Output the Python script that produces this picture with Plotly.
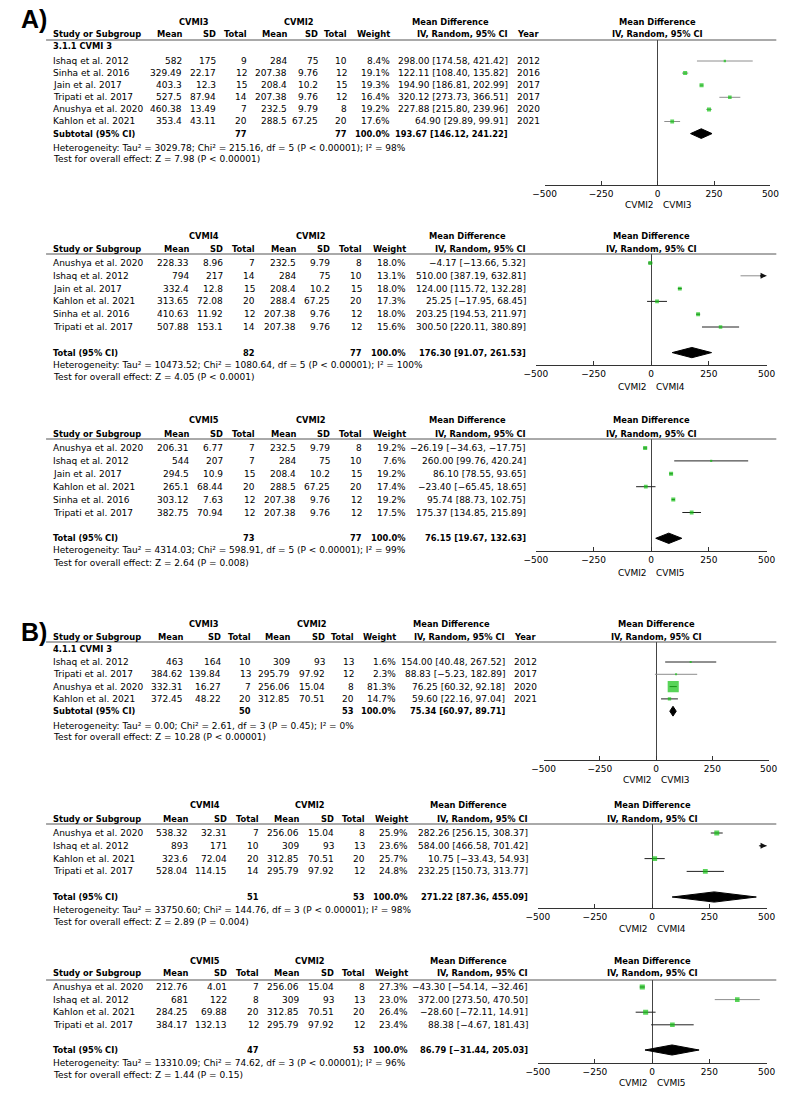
import plotly.graph_objects as go

W, H = 797, 1096
FONT = "DejaVu Sans"
FS = 9.0       # regular text size
FSB = 8.3      # bold text size
GREEN = "#12c212"
GRAY = "#8e8e8e"
DARK = "#222222"

# ---------------- data ----------------
# Panel A1 : CVMI3 vs CVMI2
a1_study = ["Ishaq et al. 2012", "Sinha et al. 2016", "Jain et al. 2017", "Tripati et al. 2017", "Anushya et al. 2020", "Kahlon et al. 2021"]
a1_mean_e = [582, 329.49, 403.3, 527.5, 460.38, 353.4]
a1_sd_e = [175, 22.17, 12.3, 87.94, 13.49, 43.11]
a1_n_e = [9, 12, 15, 14, 7, 20]
a1_mean_c = [284, 207.38, 208.4, 207.38, 232.5, 288.5]
a1_sd_c = [75, 9.76, 10.2, 9.76, 9.79, 67.25]
a1_n_c = [10, 12, 15, 12, 8, 20]
a1_weight = [8.4, 19.1, 19.3, 16.4, 19.2, 17.6]
a1_md = [298.00, 122.11, 194.90, 320.12, 227.88, 64.90]
a1_lo = [174.58, 108.40, 186.81, 273.73, 215.80, 29.89]
a1_hi = [421.42, 135.82, 202.99, 366.51, 239.96, 99.91]
a1_year = [2012, 2016, 2017, 2017, 2020, 2021]
a1_total_n = [77, 77]
a1_pooled = [193.67, 146.12, 241.22]
a1_het = "Heterogeneity: Tau² = 3029.78; Chi² = 215.16, df = 5 (P < 0.00001); I² = 98%"
a1_test = "Test for overall effect: Z = 7.98 (P < 0.00001)"

# Panel A2 : CVMI4 vs CVMI2
a2_study = ["Anushya et al. 2020", "Ishaq et al. 2012", "Jain et al. 2017", "Kahlon et al. 2021", "Sinha et al. 2016", "Tripati et al. 2017"]
a2_mean_e = [228.33, 794, 332.4, 313.65, 410.63, 507.88]
a2_sd_e = [8.96, 217, 12.8, 72.08, 11.92, 153.1]
a2_n_e = [7, 14, 15, 20, 12, 14]
a2_mean_c = [232.5, 284, 208.4, 288.4, 207.38, 207.38]
a2_sd_c = [9.79, 75, 10.2, 67.25, 9.76, 9.76]
a2_n_c = [8, 10, 15, 20, 12, 12]
a2_weight = [18.0, 13.1, 18.0, 17.3, 18.0, 15.6]
a2_md = [-4.17, 510.00, 124.00, 25.25, 203.25, 300.50]
a2_lo = [-13.66, 387.19, 115.72, -17.95, 194.53, 220.11]
a2_hi = [5.32, 632.81, 132.28, 68.45, 211.97, 380.89]
a2_total_n = [82, 77]
a2_pooled = [176.30, 91.07, 261.53]
a2_het = "Heterogeneity: Tau² = 10473.52; Chi² = 1080.64, df = 5 (P < 0.00001); I² = 100%"
a2_test = "Test for overall effect: Z = 4.05 (P < 0.0001)"

# Panel A3 : CVMI5 vs CVMI2
a3_study = ["Anushya et al. 2020", "Ishaq et al. 2012", "Jain et al. 2017", "Kahlon et al. 2021", "Sinha et al. 2016", "Tripati et al. 2017"]
a3_mean_e = [206.31, 544, 294.5, 265.1, 303.12, 382.75]
a3_sd_e = [6.77, 207, 10.9, 68.44, 7.63, 70.94]
a3_n_e = [7, 7, 15, 20, 12, 12]
a3_mean_c = [232.5, 284, 208.4, 288.5, 207.38, 207.38]
a3_sd_c = [9.79, 75, 10.2, 67.25, 9.76, 9.76]
a3_n_c = [8, 10, 15, 20, 12, 12]
a3_weight = [19.2, 7.6, 19.2, 17.4, 19.2, 17.5]
a3_md = [-26.19, 260.00, 86.10, -23.40, 95.74, 175.37]
a3_lo = [-34.63, 99.76, 78.55, -65.45, 88.73, 134.85]
a3_hi = [-17.75, 420.24, 93.65, 18.65, 102.75, 215.89]
a3_total_n = [73, 77]
a3_pooled = [76.15, 19.67, 132.63]
a3_het = "Heterogeneity: Tau² = 4314.03; Chi² = 598.91, df = 5 (P < 0.00001); I² = 99%"
a3_test = "Test for overall effect: Z = 2.64 (P = 0.008)"

# Panel B1 : CVMI3 vs CVMI2
b1_study = ["Ishaq et al. 2012", "Tripati et al. 2017", "Anushya et al. 2020", "Kahlon et al. 2021"]
b1_mean_e = [463, 384.62, 332.31, 372.45]
b1_sd_e = [164, 139.84, 16.27, 48.22]
b1_n_e = [10, 13, 7, 20]
b1_mean_c = [309, 295.79, 256.06, 312.85]
b1_sd_c = [93, 97.92, 15.04, 70.51]
b1_n_c = [13, 12, 8, 20]
b1_weight = [1.6, 2.3, 81.3, 14.7]
b1_md = [154.00, 88.83, 76.25, 59.60]
b1_lo = [40.48, -5.23, 60.32, 22.16]
b1_hi = [267.52, 182.89, 92.18, 97.04]
b1_year = [2012, 2017, 2020, 2021]
b1_total_n = [50, 53]
b1_pooled = [75.34, 60.97, 89.71]
b1_het = "Heterogeneity: Tau² = 0.00; Chi² = 2.61, df = 3 (P = 0.45); I² = 0%"
b1_test = "Test for overall effect: Z = 10.28 (P < 0.00001)"

# Panel B2 : CVMI4 vs CVMI2
b2_study = ["Anushya et al. 2020", "Ishaq et al. 2012", "Kahlon et al. 2021", "Tripati et al. 2017"]
b2_mean_e = [538.32, 893, 323.6, 528.04]
b2_sd_e = [32.31, 171, 72.04, 114.15]
b2_n_e = [7, 10, 20, 14]
b2_mean_c = [256.06, 309, 312.85, 295.79]
b2_sd_c = [15.04, 93, 70.51, 97.92]
b2_n_c = [8, 13, 20, 12]
b2_weight = [25.9, 23.6, 25.7, 24.8]
b2_md = [282.26, 584.00, 10.75, 232.25]
b2_lo = [256.15, 466.58, -33.43, 150.73]
b2_hi = [308.37, 701.42, 54.93, 313.77]
b2_total_n = [51, 53]
b2_pooled = [271.22, 87.36, 455.09]
b2_het = "Heterogeneity: Tau² = 33750.60; Chi² = 144.76, df = 3 (P < 0.00001); I² = 98%"
b2_test = "Test for overall effect: Z = 2.89 (P = 0.004)"

# Panel B3 : CVMI5 vs CVMI2
b3_study = ["Anushya et al. 2020", "Ishaq et al. 2012", "Kahlon et al. 2021", "Tripati et al. 2017"]
b3_mean_e = [212.76, 681, 284.25, 384.17]
b3_sd_e = [4.01, 122, 69.88, 132.13]
b3_n_e = [7, 8, 20, 12]
b3_mean_c = [256.06, 309, 312.85, 295.79]
b3_sd_c = [15.04, 93, 70.51, 97.92]
b3_n_c = [8, 13, 20, 12]
b3_weight = [27.3, 23.0, 26.4, 23.4]
b3_md = [-43.30, 372.00, -28.60, 88.38]
b3_lo = [-54.14, 273.50, -72.11, -4.67]
b3_hi = [-32.46, 470.50, 14.91, 181.43]
b3_total_n = [47, 53]
b3_pooled = [86.79, -31.44, 205.03]
b3_het = "Heterogeneity: Tau² = 13310.09; Chi² = 74.62, df = 3 (P < 0.00001); I² = 96%"
b3_test = "Test for overall effect: Z = 1.44 (P = 0.15)"

x_ticks = [-500, -250, 0, 250, 500]
x_range = [-500, 500]

panels = [
    dict(exp="CVMI3", ctl="CVMI2", study=a1_study, me=a1_mean_e, se=a1_sd_e, ne=a1_n_e, mc=a1_mean_c, sc=a1_sd_c, nc=a1_n_c,
         w=a1_weight, md=a1_md, lo=a1_lo, hi=a1_hi, year=a1_year, sub="3.1.1 CVMI 3", tot_label="Subtotal (95% CI)",
         tot_n=a1_total_n, pooled=a1_pooled, het=a1_het, test=a1_test),
    dict(exp="CVMI4", ctl="CVMI2", study=a2_study, me=a2_mean_e, se=a2_sd_e, ne=a2_n_e, mc=a2_mean_c, sc=a2_sd_c, nc=a2_n_c,
         w=a2_weight, md=a2_md, lo=a2_lo, hi=a2_hi, year=None, sub=None, tot_label="Total (95% CI)",
         tot_n=a2_total_n, pooled=a2_pooled, het=a2_het, test=a2_test),
    dict(exp="CVMI5", ctl="CVMI2", study=a3_study, me=a3_mean_e, se=a3_sd_e, ne=a3_n_e, mc=a3_mean_c, sc=a3_sd_c, nc=a3_n_c,
         w=a3_weight, md=a3_md, lo=a3_lo, hi=a3_hi, year=None, sub=None, tot_label="Total (95% CI)",
         tot_n=a3_total_n, pooled=a3_pooled, het=a3_het, test=a3_test),
    dict(exp="CVMI3", ctl="CVMI2", study=b1_study, me=b1_mean_e, se=b1_sd_e, ne=b1_n_e, mc=b1_mean_c, sc=b1_sd_c, nc=b1_n_c,
         w=b1_weight, md=b1_md, lo=b1_lo, hi=b1_hi, year=b1_year, sub="4.1.1 CVMI 3", tot_label="Subtotal (95% CI)",
         tot_n=b1_total_n, pooled=b1_pooled, het=b1_het, test=b1_test),
    dict(exp="CVMI4", ctl="CVMI2", study=b2_study, me=b2_mean_e, se=b2_sd_e, ne=b2_n_e, mc=b2_mean_c, sc=b2_sd_c, nc=b2_n_c,
         w=b2_weight, md=b2_md, lo=b2_lo, hi=b2_hi, year=None, sub=None, tot_label="Total (95% CI)",
         tot_n=b2_total_n, pooled=b2_pooled, het=b2_het, test=b2_test),
    dict(exp="CVMI5", ctl="CVMI2", study=b3_study, me=b3_mean_e, se=b3_sd_e, ne=b3_n_e, mc=b3_mean_c, sc=b3_sd_c, nc=b3_n_c,
         w=b3_weight, md=b3_md, lo=b3_lo, hi=b3_hi, year=None, sub=None, tot_label="Total (95% CI)",
         tot_n=b3_total_n, pooled=b3_pooled, het=b3_het, test=b3_test),
]

# ---------------- layout geometry (pixels) ----------------
colsA1 = dict(me=176, se=211, ne=242, mc=283, sc=315, nc=345, w=389, ci=510, year=530, g1=187, g2=295, mdh=450)
colsA = dict(me=183, se=218, ne=251, mc=293, sc=328, nc=361, w=406, ci=529, year=None, g1=197, g2=307, mdh=468)
colsB1 = dict(me=177, se=216, ne=247, mc=287, sc=322, nc=352, w=395, ci=507, year=527, g1=197, g2=308, mdh=451)
colsB = dict(me=182, se=222, ne=255, mc=296, sc=332, nc=364, w=408, ci=531, year=None, g1=198, g2=306, mdh=469)

geom = [
    dict(line=40, row0=61, pitch=12.1, axis=185, grp=22, hdr=34, sub=46, het=148, test=159, cap=205, xl=547, xr=779, gap=0, cols=colsA1),
    dict(line=254, row0=263, pitch=12.8, axis=365, grp=236, hdr=249, sub=None, het=365, test=377, cap=387, xl=538, xr=775, gap=1, cols=colsA),
    dict(line=439, row0=448, pitch=12.9, axis=551, grp=420, hdr=434, sub=None, het=550, test=563, cap=573, xl=538, xr=775, gap=1, cols=colsA),
    dict(line=642, row0=662, pitch=12.3, axis=760, grp=624, hdr=637, sub=649, het=726, test=737, cap=780, xl=546, xr=777, gap=0, cols=colsB1),
    dict(line=824, row0=833, pitch=12.8, axis=908, grp=805, hdr=819, sub=None, het=910, test=922, cap=929, xl=540, xr=775, gap=1, cols=colsB),
    dict(line=980, row0=987, pitch=12.6, axis=1063, grp=961, hdr=973, sub=None, het=1063, test=1075, cap=1083, xl=540, xr=775, gap=1, cols=colsB),
]
ci_colors = [
    [GRAY] * 6,
    [DARK, GRAY, DARK, DARK, DARK, DARK],
    [DARK] * 6,
    [DARK, GRAY, DARK, DARK],
    [DARK] * 4,
    [DARK, GRAY, DARK, DARK],
]
STUDY_X = 41


def X(px):
    return px / W


def Y(py):
    return 1 - py / H


def num(v):
    return str(v)


def mdtxt(m, l, h):
    return f"{m:.2f} [{l:.2f}, {h:.2f}]".replace("-", "−")


fig = go.Figure()
annotations = []
shapes = []
layout_axes = {}


def txt(x, y, text, xanchor="left", yref="paper", bold=False, size=None, xref="paper", xshift=0, family=FONT):
    if size is None:
        size = FSB if bold else FS
    annotations.append(dict(
        x=x, y=y, xref=xref, yref=yref, text=f"<b>{text}</b>" if bold else text,
        showarrow=False, xanchor=xanchor, yanchor="middle", xshift=xshift,
        font=dict(family=family, size=size, color="#000000"), borderpad=0,
    ))


for k, (p, g) in enumerate(zip(panels, geom), start=1):
    xa = "x" if k == 1 else f"x{k}"
    ya = "y" if k == 1 else f"y{k}"
    c = g["cols"]
    n = len(p["study"])
    tot_i = n + g["gap"]

    # axes
    layout_axes["xaxis" if k == 1 else f"xaxis{k}"] = dict(
        domain=[X(g["xl"]), X(g["xr"])], anchor=ya, range=x_range,
        tickvals=x_ticks, showline=True, linecolor="#333333", linewidth=1,
        ticks="inside", ticklen=4, tickcolor="#333333", tickwidth=1,
        showgrid=False, zeroline=True, zerolinecolor="#444444", zerolinewidth=1,
        tickfont=dict(family=FONT, size=FS, color="#000000"), fixedrange=True,
    )
    layout_axes["yaxis" if k == 1 else f"yaxis{k}"] = dict(
        domain=[Y(g["axis"]), Y(g["line"])], anchor=xa,
        range=[(g["axis"] - g["row0"]) / g["pitch"], (g["line"] - g["row0"]) / g["pitch"]],
        visible=False, showgrid=False, zeroline=False, fixedrange=True,
    )

    # CI lines
    for i in range(n):
        fig.add_trace(go.Scatter(
            x=[p["lo"][i], p["hi"][i]], y=[i, i], mode="lines",
            line=dict(color=ci_colors[k - 1][i], width=1),
            xaxis=xa, yaxis=ya, showlegend=False, hoverinfo="skip"))
        if p["hi"][i] > x_range[1]:
            # arrowhead marking a CI that runs past the axis end (tail offset in pixels)
            annotations.append(dict(
                x=x_range[1], y=i, ax=-8, ay=0, xref=xa, yref=ya,
                text="", showarrow=True, arrowhead=2, arrowsize=1, arrowwidth=1.2,
                arrowcolor="#111111", standoff=0, startstandoff=0))

    # study squares (size from weight)
    sizes = [max(2.0, 0.51 * wv ** 0.7) for wv in p["w"]]
    fig.add_trace(go.Scatter(
        x=p["md"], y=list(range(n)), mode="markers",
        marker=dict(symbol="square", size=sizes, color=GREEN, line=dict(width=0)),
        xaxis=xa, yaxis=ya, showlegend=False, hoverinfo="skip"))

    # pooled diamond
    est, plo, phi = p["pooled"]
    hh = 0.4
    fig.add_trace(go.Scatter(
        x=[plo, est, phi, est, plo], y=[tot_i, tot_i - hh, tot_i, tot_i + hh, tot_i],
        mode="lines", fill="toself", fillcolor="#000000", line=dict(color="#000000", width=1),
        xaxis=xa, yaxis=ya, showlegend=False, hoverinfo="skip"))

    # header line across table and plot
    shapes.append(dict(type="line", xref="paper", yref="paper", x0=X(35), x1=X(785),
                       y0=Y(g["line"]), y1=Y(g["line"]), line=dict(color="#555555", width=1)))

    # column headers
    txt(X(c["g1"]), Y(g["grp"]), p["exp"], "center", bold=True)
    txt(X(c["g2"]), Y(g["grp"]), p["ctl"], "center", bold=True)
    txt(X(c["mdh"]), Y(g["grp"]), "Mean Difference", "center", bold=True)
    txt(X(STUDY_X), Y(g["hdr"]), "Study or Subgroup", "left", bold=True)
    for key, lab in [("me", "Mean"), ("se", "SD"), ("ne", "Total"), ("mc", "Mean"), ("sc", "SD"), ("nc", "Total"), ("w", "Weight")]:
        txt(X(c[key]), Y(g["hdr"]), lab, "right", bold=True)
    txt(X(c["ci"]), Y(g["hdr"]), "IV, Random, 95% CI", "right", bold=True)
    if c["year"]:
        txt(X(c["year"]), Y(g["hdr"]), "Year", "center", bold=True)
    # plot headers
    txt(0, Y(g["grp"]), "Mean Difference", "center", bold=True, xref=xa)
    txt(0, Y(g["hdr"]), "IV, Random, 95% CI", "center", bold=True, xref=xa)
    if p["sub"]:
        txt(X(STUDY_X), Y(g["sub"]), p["sub"], "left", bold=True)

    # study rows
    for i in range(n):
        txt(X(STUDY_X), i, p["study"][i], "left", yref=ya)
        txt(X(c["me"]), i, num(p["me"][i]), "right", yref=ya)
        txt(X(c["se"]), i, num(p["se"][i]), "right", yref=ya)
        txt(X(c["ne"]), i, num(p["ne"][i]), "right", yref=ya)
        txt(X(c["mc"]), i, num(p["mc"][i]), "right", yref=ya)
        txt(X(c["sc"]), i, num(p["sc"][i]), "right", yref=ya)
        txt(X(c["nc"]), i, num(p["nc"][i]), "right", yref=ya)
        txt(X(c["w"]), i, f"{p['w'][i]:.1f}%", "right", yref=ya)
        txt(X(c["ci"]), i, mdtxt(p["md"][i], p["lo"][i], p["hi"][i]), "right", yref=ya)
        if p["year"]:
            txt(X(c["year"]), i, str(p["year"][i]), "center", yref=ya)

    # total row
    txt(X(STUDY_X), tot_i, p["tot_label"], "left", yref=ya, bold=True)
    txt(X(c["ne"]), tot_i, str(p["tot_n"][0]), "right", yref=ya, bold=True)
    txt(X(c["nc"]), tot_i, str(p["tot_n"][1]), "right", yref=ya, bold=True)
    txt(X(c["w"]), tot_i, "100.0%", "right", yref=ya, bold=True)
    txt(X(c["ci"]), tot_i, mdtxt(est, plo, phi), "right", yref=ya, bold=True)

    # footers
    txt(X(STUDY_X), Y(g["het"]), p["het"], "left")
    txt(X(STUDY_X), Y(g["test"]), p["test"], "left")

    # favours captions
    txt(0, Y(g["cap"]), p["ctl"], "right", xref=xa, xshift=-3)
    txt(0, Y(g["cap"]), p["exp"], "left", xref=xa, xshift=4)

# panel letters
txt(X(8), Y(19), "A)", "left", bold=True, size=25, family="Liberation Sans, Arial")
txt(X(8), Y(632), "B)", "left", bold=True, size=25, family="Liberation Sans, Arial")

fig.update_layout(
    width=W, height=H, autosize=False,
    margin=dict(l=0, r=0, t=0, b=0),
    paper_bgcolor="white", plot_bgcolor="white",
    showlegend=False, annotations=annotations, shapes=shapes,
    font=dict(family=FONT, size=FS, color="#000000"),
    **layout_axes,
)

fig.write_html("out.html", config={"displayModeBar": False, "staticPlot": True},
               post_script="document.body.style.margin='0px';document.body.style.overflow='hidden';")
